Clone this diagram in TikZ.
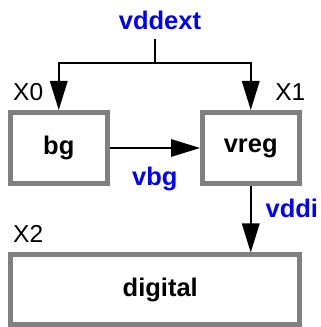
\documentclass[tikz,border=0pt]{standalone}
\usepackage{fontspec}
\setmainfont{Liberation Sans}
\usepackage{tikz}
\usetikzlibrary{positioning,arrows.meta}

\begin{document}
\begin{tikzpicture}[
  x=1pt, y=1pt,
  block/.style  = {draw=gray, line width=5pt, minimum width=96.5pt,
                   minimum height=71pt, inner sep=0pt,
                   font=\fontsize{25.5}{30}\selectfont\bfseries},
  wire/.style   = {line width=1.7pt, -{Triangle[length=29pt,width=17.5pt]}},
  signal/.style = {font=\fontsize{25.5}{30}\selectfont\bfseries, text=blue,
                   inner sep=0pt},
  inst/.style   = {font=\fontsize{24.5}{30}\selectfont, inner sep=0pt}
]
  \useasboundingbox (0,0) rectangle (321,327);

  % Row 1: bandgap and regulator
  \node[block] (bg) at (58.75,179) {bg};
  \node[block, right=90.5pt of bg] (vreg) {vreg};

  % Row 2: digital core, full width
  \node[block, minimum width=288.5pt, minimum height=70pt,
        below=66.5pt of bg.south west, anchor=north west] (digital) {\hspace*{11pt}digital};

  % Instance names
  \node[inst, above right=9pt and 5pt of bg.north west] (x0) {X0};
  \node[inst, above left=9pt and -4pt of vreg.north east] (x1) {X1};
  \node[inst, above right=9.5pt and 5pt of digital.north west] (x2) {X2};

  % Supply net feeding both blocks
  \coordinate (split) at (155,263.7);
  \node[signal, anchor=base] (vddext) at (160,297) {vddext};
  \draw[line width=1.7pt] ([yshift=-9pt]vddext.south -| split) -- (split);
  \draw[wire] (split) -| (bg);
  \draw[wire] (split) -| (vreg);

  % Internal nets
  \draw[wire] (bg) -- node[signal, below=18.5pt] (vbg) {vbg} (vreg);
  \draw[wire] (vreg.south) -- node[signal, right=14pt, pos=0.335] (vddi) {vddi}
    (vreg.south |- digital.north);

\end{tikzpicture}
\end{document}
